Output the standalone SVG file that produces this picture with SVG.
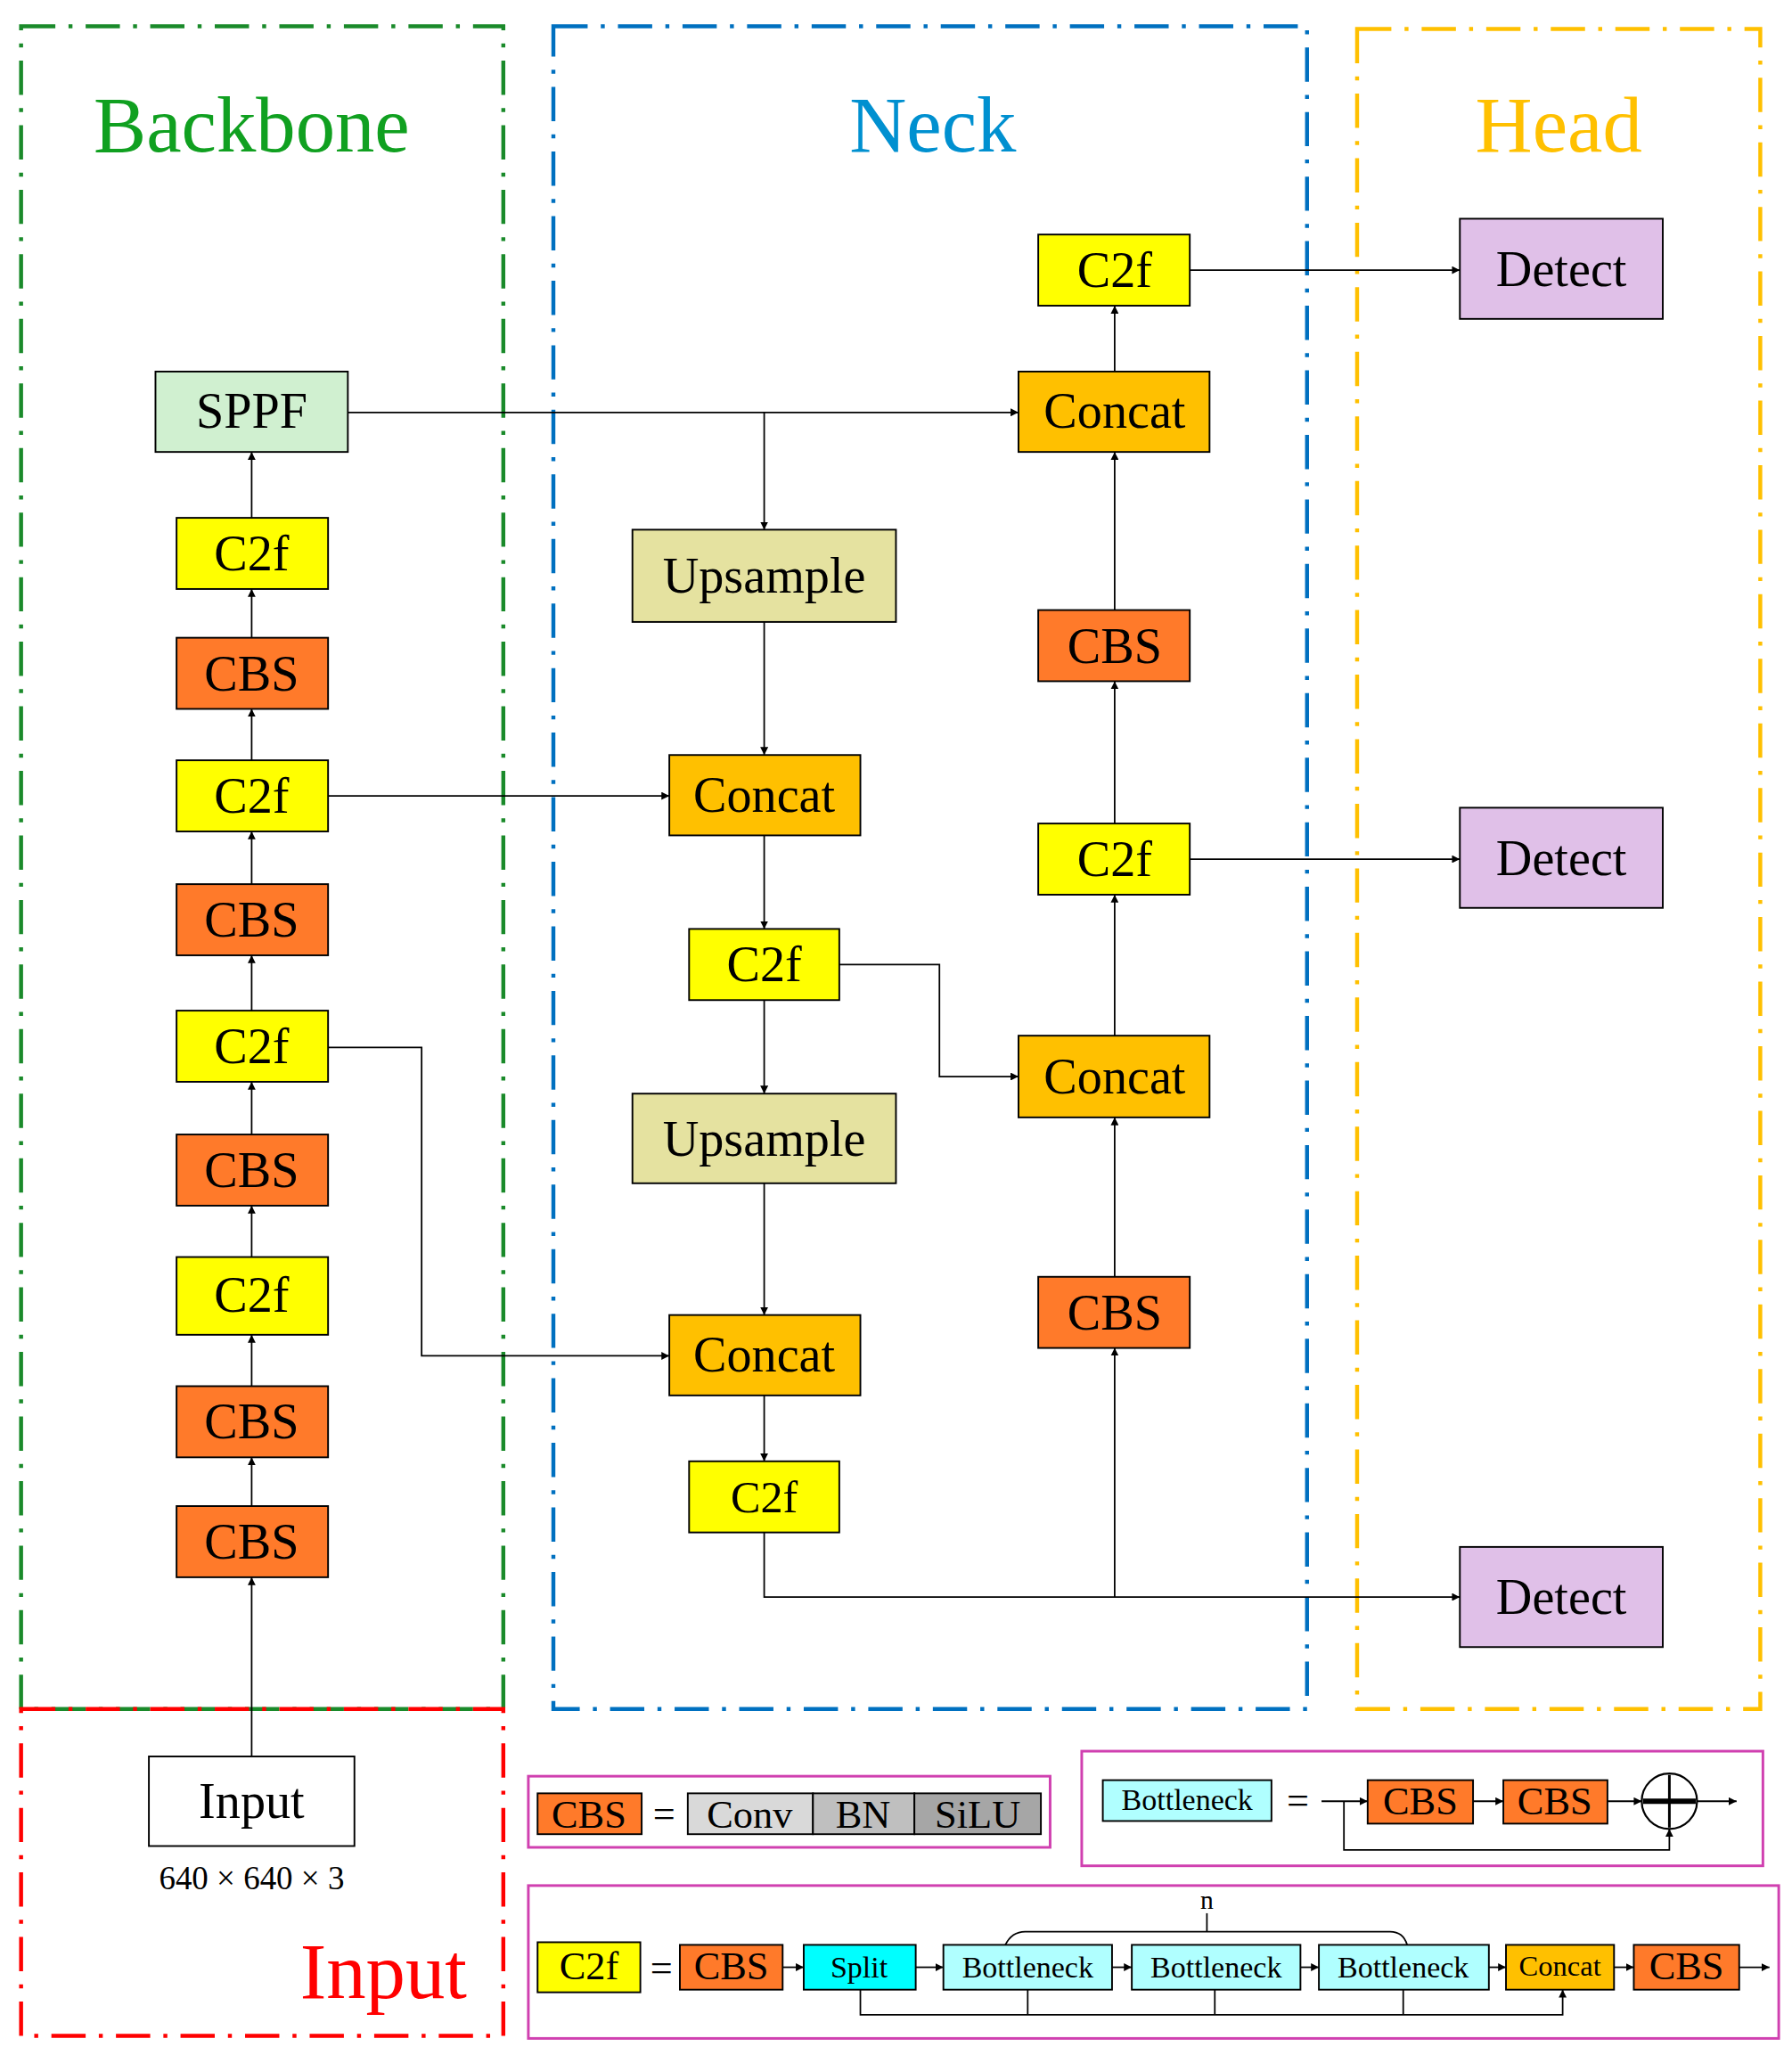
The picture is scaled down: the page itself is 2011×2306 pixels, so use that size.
<svg xmlns="http://www.w3.org/2000/svg" width="2011" height="2306" viewBox="0 0 2011 2306">
<defs>
<marker id="a" viewBox="0 0 10 10" refX="10" refY="5" markerWidth="5" markerHeight="5" orient="auto"><path d="M0,0L10,5L0,10z" fill="#000"/></marker>
<style>
text{font-family:"Liberation Serif",serif;text-anchor:middle;dominant-baseline:central;fill:#000}
.n rect{stroke:#000;stroke-width:1.3}
.t{font-size:38px}
.s{font-size:25px}
.xs{font-size:20px}
.c line,.c path,.c polyline{stroke:#000;stroke-width:1.2;fill:none}
.ar{marker-end:url(#a)}
.y{fill:#ffff00}.o{fill:#ff7a2a}.g{fill:#ffc000}.u{fill:#e5e2a0}.d{fill:#e0c0e8}.b{fill:#b0ffff}
</style>
</defs>
<rect width="2011" height="2306" fill="#fff"/>
<g transform="scale(1.4786)">
<g id="frames" fill="none" stroke-width="3" stroke-dasharray="26,10,3,10">
<rect x="16" y="20" width="366" height="1277" stroke="#1a8a2a"/>
<rect x="420" y="20" width="572" height="1277" stroke="#0070c0"/>
<rect x="1030" y="22" width="306" height="1275" stroke="#ffc000"/>
<rect x="16" y="1297" width="366" height="248" stroke="#ff0000"/>
</g>
<text x="191" y="95" style="font-size:60px;fill:#10a020">Backbone</text>
<text x="708" y="95" style="font-size:60px;fill:#0090d0">Neck</text>
<text x="1183" y="95" style="font-size:60px;fill:#ffc000">Head</text>
<text x="291" y="1496" style="font-size:60px;fill:#ff0000">Input</text>

<g class="c">
<line class="ar" x1="264" y1="313" x2="773" y2="313"/>
<line class="ar" x1="580" y1="313" x2="580" y2="402"/>
<line class="ar" x1="580" y1="472" x2="580" y2="573"/>
<line class="ar" x1="249" y1="604" x2="508" y2="604"/>
<line class="ar" x1="580" y1="634" x2="580" y2="705"/>
<line class="ar" x1="580" y1="759" x2="580" y2="830"/>
<polyline class="ar" points="637,732 713,732 713,817 773,817"/>
<line class="ar" x1="580" y1="898" x2="580" y2="998"/>
<polyline class="ar" points="249,795 320,795 320,1029 508,1029"/>
<line class="ar" x1="580" y1="1059" x2="580" y2="1109"/>
<polyline class="ar" points="580,1163 580,1212 1108,1212"/>
<line class="ar" x1="846" y1="1212" x2="846" y2="1023"/>
<line class="ar" x1="846" y1="969" x2="846" y2="848"/>
<line class="ar" x1="846" y1="786" x2="846" y2="679"/>
<line class="ar" x1="846" y1="625" x2="846" y2="517"/>
<line class="ar" x1="846" y1="463" x2="846" y2="343"/>
<line class="ar" x1="846" y1="282" x2="846" y2="232"/>
<line class="ar" x1="903" y1="205" x2="1108" y2="205"/>
<line class="ar" x1="903" y1="652" x2="1108" y2="652"/>
<line class="ar" x1="191" y1="393" x2="191" y2="343"/>
<line class="ar" x1="191" y1="484" x2="191" y2="447"/>
<line class="ar" x1="191" y1="577" x2="191" y2="538"/>
<line class="ar" x1="191" y1="671" x2="191" y2="631"/>
<line class="ar" x1="191" y1="767" x2="191" y2="725"/>
<line class="ar" x1="191" y1="861" x2="191" y2="821"/>
<line class="ar" x1="191" y1="954" x2="191" y2="915"/>
<line class="ar" x1="191" y1="1052" x2="191" y2="1013"/>
<line class="ar" x1="191" y1="1143" x2="191" y2="1106"/>
<line class="ar" x1="191" y1="1333" x2="191" y2="1197"/>
</g>

<g id="sppf" class="n"><rect x="118" y="282" width="146" height="61" fill="#d0f0d0"/><text class="t" x="191" y="312">SPPF</text></g>
<g id="b1" class="n"><rect class="y" x="134" y="393" width="115" height="54"/><text class="t" x="191" y="420">C2f</text></g>
<g id="b2" class="n"><rect class="o" x="134" y="484" width="115" height="54"/><text class="t" x="191" y="511">CBS</text></g>
<g id="b3" class="n"><rect class="y" x="134" y="577" width="115" height="54"/><text class="t" x="191" y="604">C2f</text></g>
<g id="b4" class="n"><rect class="o" x="134" y="671" width="115" height="54"/><text class="t" x="191" y="698">CBS</text></g>
<g id="b5" class="n"><rect class="y" x="134" y="767" width="115" height="54"/><text class="t" x="191" y="794">C2f</text></g>
<g id="b6" class="n"><rect class="o" x="134" y="861" width="115" height="54"/><text class="t" x="191" y="888">CBS</text></g>
<g id="b7" class="n"><rect class="y" x="134" y="954" width="115" height="59"/><text class="t" x="191" y="983">C2f</text></g>
<g id="b8" class="n"><rect class="o" x="134" y="1052" width="115" height="54"/><text class="t" x="191" y="1079">CBS</text></g>
<g id="b9" class="n"><rect class="o" x="134" y="1143" width="115" height="54"/><text class="t" x="191" y="1170">CBS</text></g>
<g id="input" class="n"><rect x="113" y="1333" width="156" height="68" fill="#fff"/><text class="t" x="191" y="1367">Input</text></g>
<text class="s" x="191" y="1425">640 × 640 × 3</text>

<g id="n1" class="n"><rect class="u" x="480" y="402" width="200" height="70"/><text class="t" x="580" y="437">Upsample</text></g>
<g id="n2" class="n"><rect class="g" x="508" y="573" width="145" height="61"/><text class="t" x="580" y="603">Concat</text></g>
<g id="n3" class="n"><rect class="y" x="523" y="705" width="114" height="54"/><text class="t" x="580" y="732">C2f</text></g>
<g id="n4" class="n"><rect class="u" x="480" y="830" width="200" height="68"/><text class="t" x="580" y="864">Upsample</text></g>
<g id="n5" class="n"><rect class="g" x="508" y="998" width="145" height="61"/><text class="t" x="580" y="1028">Concat</text></g>
<g id="n6" class="n"><rect class="y" x="523" y="1109" width="114" height="54"/><text class="t" x="580" y="1136" style="font-size:34px">C2f</text></g>
<g id="n7" class="n"><rect class="y" x="788" y="178" width="115" height="54"/><text class="t" x="846" y="205">C2f</text></g>
<g id="n8" class="n"><rect class="g" x="773" y="282" width="145" height="61"/><text class="t" x="846" y="312">Concat</text></g>
<g id="n9" class="n"><rect class="o" x="788" y="463" width="115" height="54"/><text class="t" x="846" y="490">CBS</text></g>
<g id="n10" class="n"><rect class="y" x="788" y="625" width="115" height="54"/><text class="t" x="846" y="652">C2f</text></g>
<g id="n11" class="n"><rect class="g" x="773" y="786" width="145" height="62"/><text class="t" x="846" y="817">Concat</text></g>
<g id="n12" class="n"><rect class="o" x="788" y="969" width="115" height="54"/><text class="t" x="846" y="996">CBS</text></g>
<g id="d1" class="n"><rect class="d" x="1108" y="166" width="154" height="76"/><text class="t" x="1185" y="204">Detect</text></g>
<g id="d2" class="n"><rect class="d" x="1108" y="613" width="154" height="76"/><text class="t" x="1185" y="651">Detect</text></g>
<g id="d3" class="n"><rect class="d" x="1108" y="1174" width="154" height="76"/><text class="t" x="1185" y="1212">Detect</text></g>

<g id="legend" fill="none" stroke="#d040b0" stroke-width="2">
<rect x="401" y="1348" width="396" height="54"/>
<rect x="821" y="1329" width="517" height="87"/>
<rect x="401" y="1431" width="949" height="116"/>
</g>
<g id="cbsdef" class="n">
<rect class="o" x="408" y="1361" width="79" height="31"/><text class="s" x="447" y="1377" style="font-size:30px">CBS</text>
<text class="s" x="504" y="1376" style="font-size:30px">=</text>
<rect x="522" y="1361" width="95" height="31" fill="#d9d9d9"/><text x="569" y="1377" style="font-size:30px">Conv</text>
<rect x="617" y="1361" width="77" height="31" fill="#bfbfbf"/><text x="655" y="1377" style="font-size:30px">BN</text>
<rect x="694" y="1361" width="96" height="31" fill="#a6a6a6"/><text x="742" y="1377" style="font-size:30px">SiLU</text>
</g>
<g id="bndef" class="n">
<rect class="b" x="837" y="1351" width="128" height="31"/><text x="901" y="1366" class="xs" style="font-size:23px">Bottleneck</text>
<text x="985" y="1366" style="font-size:30px">=</text>
<rect class="o" x="1038" y="1351" width="80" height="33"/><text x="1078" y="1367" style="font-size:30px">CBS</text>
<rect class="o" x="1141" y="1351" width="79" height="33"/><text x="1180" y="1367" style="font-size:30px">CBS</text>
<circle cx="1267" cy="1367" r="21" fill="#fff" stroke="#000" stroke-width="1.5"/>
<line x1="1247" y1="1367" x2="1287" y2="1367" stroke="#000" stroke-width="4"/>
<line x1="1267" y1="1347" x2="1267" y2="1387" stroke="#000" stroke-width="2"/>
</g>
<g class="c">
<line class="ar" x1="1003" y1="1367" x2="1038" y2="1367"/>
<line class="ar" x1="1118" y1="1367" x2="1141" y2="1367"/>
<line class="ar" x1="1220" y1="1367" x2="1246" y2="1367"/>
<line class="ar" x1="1288" y1="1367" x2="1318" y2="1367"/>
<polyline class="ar" points="1020,1367 1020,1404 1267,1404 1267,1388"/>
</g>
<g id="c2fdef" class="n">
<rect class="y" x="408" y="1474" width="78" height="38"/><text x="447" y="1492" style="font-size:30px">C2f</text>
<text x="502" y="1493" style="font-size:30px">=</text>
<rect class="o" x="516" y="1476" width="78" height="34"/><text x="555" y="1492" style="font-size:30px">CBS</text>
<rect x="610" y="1476" width="85" height="34" fill="#00ffff"/><text x="652" y="1493" style="font-size:23px">Split</text>
<rect class="b" x="716" y="1476" width="128" height="34"/><text x="780" y="1493" style="font-size:23px">Bottleneck</text>
<rect class="b" x="859" y="1476" width="128" height="34"/><text x="923" y="1493" style="font-size:23px">Bottleneck</text>
<rect class="b" x="1001" y="1476" width="129" height="34"/><text x="1065" y="1493" style="font-size:23px">Bottleneck</text>
<rect class="g" x="1143" y="1476" width="82" height="34"/><text x="1184" y="1492" style="font-size:22px">Concat</text>
<rect class="o" x="1240" y="1476" width="80" height="34"/><text x="1280" y="1492" style="font-size:30px">CBS</text>
<text x="916" y="1442" style="font-size:20px">n</text>
</g>
<g class="c">
<line class="ar" x1="594" y1="1493" x2="610" y2="1493"/>
<line class="ar" x1="695" y1="1493" x2="716" y2="1493"/>
<line class="ar" x1="844" y1="1493" x2="859" y2="1493"/>
<line class="ar" x1="987" y1="1493" x2="1001" y2="1493"/>
<line class="ar" x1="1130" y1="1493" x2="1143" y2="1493"/>
<line class="ar" x1="1225" y1="1493" x2="1240" y2="1493"/>
<line class="ar" x1="1320" y1="1493" x2="1343" y2="1493"/>
<polyline class="ar" points="653,1510 653,1529 1186,1529 1186,1510"/>
<line x1="780" y1="1510" x2="780" y2="1529"/>
<line x1="922" y1="1510" x2="922" y2="1529"/>
<line x1="1065" y1="1510" x2="1065" y2="1529"/>
<path d="M763,1476 Q768,1466 778,1466 L1055,1466 Q1065,1466 1068,1476"/>
<line x1="916" y1="1452" x2="916" y2="1466"/>
</g>
</g>
</svg>
